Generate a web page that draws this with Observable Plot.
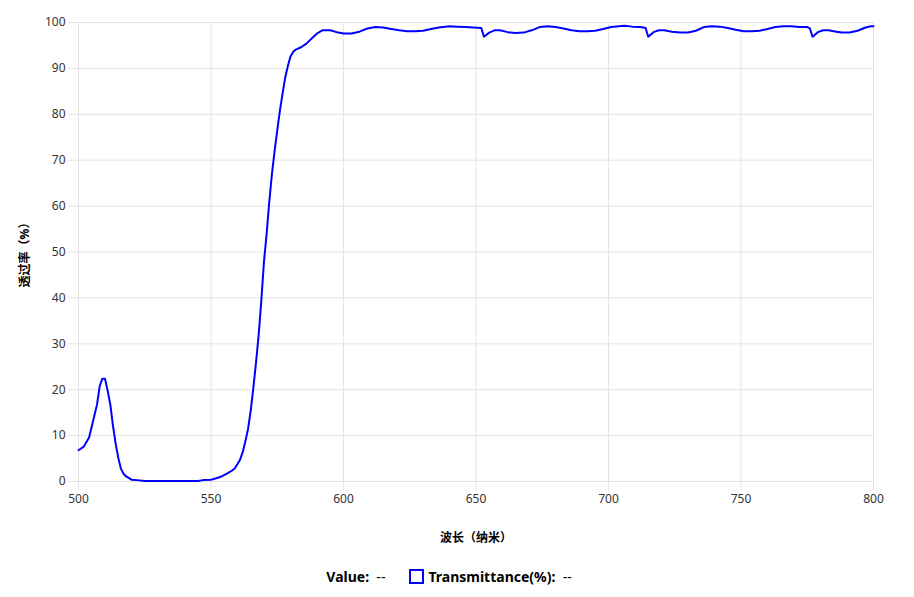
<!DOCTYPE html>
<html><head><meta charset="utf-8">
<script src="https://cdn.jsdelivr.net/npm/d3@7"></script>
<script src="https://cdn.jsdelivr.net/npm/@observablehq/plot@0.6"></script>
<style>
body{margin:0;background:#fff;font-family:"Noto Sans","Noto Sans CJK SC",sans-serif;}
#legend{height:42px;display:flex;align-items:center;justify-content:center;font-size:14px;color:#000;padding-right:16px;}
#legend b{font-weight:700}
.box{display:inline-block;width:11px;height:11px;border:2px solid #0000ff;margin:0 4px 0 0;vertical-align:-2px}
</style></head><body>
<div id="chart"></div>
<div id="legend"><span><b>Value:</b>&nbsp;&nbsp;--</span><span style="margin-left:24px"><span class="box"></span><b>Transmittance(%):</b>&nbsp;&nbsp;--</span></div>
<script>
const wavelength = [500,502,504,506,507,508,509,510,511,512,513,514,515,516,517,518,520,522,525,530,535,540,545,547,550,552,554,556,558,559,560,561,562,563,564,565,566,567,568,569,570,571,572,573,574,575,576,577,578,579,580,581,582,584,586,588,590,592,595,598,600,603,606,609,612,615,618,621,624,627,630,633,636,640,643,646,649,652,653,655,657,659,662,665,668,671,674,677,680,683,686,689,692,695,698,701,704,706,709,712,714,715,717,719,721,724,727,730,733,736,739,742,745,748,751,754,757,760,763,766,769,772,775,776,777,779,781,783,786,788,791,794,797,799,800];
const transmittance = [6.8,7.6,9.6,14.4,16.8,20.8,22.4,22.4,19.8,16.8,12.2,8.3,5.2,2.8,1.7,1.1,0.4,0.3,0.1,0.1,0.1,0.1,0.1,0.3,0.4,0.7,1.1,1.7,2.4,2.9,3.8,4.8,6.5,8.8,11.5,15.5,20.5,26,32,39.5,48,54,61,67,72,76.5,80.8,84.5,88,90.5,92.6,93.6,94.1,94.6,95.4,96.5,97.6,98.3,98.3,97.8,97.6,97.6,98.0,98.7,99.0,98.9,98.6,98.3,98.1,98.1,98.2,98.6,98.9,99.2,99.1,99.0,98.9,98.8,96.9,97.8,98.3,98.3,97.9,97.7,97.8,98.3,99.0,99.2,99.0,98.7,98.3,98.1,98.1,98.2,98.6,99.0,99.2,99.3,99.1,99.0,98.8,96.9,97.9,98.3,98.3,98.0,97.8,97.8,98.2,99.0,99.2,99.1,98.8,98.4,98.1,98.1,98.2,98.6,99.0,99.2,99.2,99.0,99.0,98.7,96.9,97.9,98.3,98.3,98.0,97.8,97.8,98.2,98.9,99.2,99.2];
const xTicks = [500,550,600,650,700,750,800];
const yTicks = [0,10,20,30,40,50,60,70,80,90,100];
const data = wavelength.map((w,i)=>({w, t: transmittance[i]}));
const grid = "#e4e4e4";
const chart = Plot.plot({
  width: 914, height: 555,
  marginTop: 22, marginBottom: 74, marginLeft: 78, marginRight: 41,
  style: {fontFamily: '"Noto Sans","Noto Sans CJK SC",sans-serif', fontSize: "12px", color: "#333", background: "#fff"},
  x: {domain: [500, 800]},
  y: {domain: [0, 100]},
  marks: [
    Plot.gridX(xTicks, {stroke: grid, strokeOpacity: 1}),
    Plot.gridY(yTicks, {stroke: grid, strokeOpacity: 1}),
    Plot.axisX(xTicks, {tickSize: 9, stroke: grid, strokeOpacity: 1, tickPadding: 4, fill: "#333", label: "波长（纳米）", labelAnchor: "center", labelArrow: "none", labelOffset: 60}),
    Plot.axisY(yTicks, {tickSize: 10, stroke: grid, strokeOpacity: 1, tickPadding: 3, fill: "#333", label: "透过率（%）", labelAnchor: "center", labelArrow: "none", labelOffset: 58}),
    Plot.line(data, {x: "w", y: "t", stroke: "#0000ff", strokeWidth: 2})
  ]
});
d3.select(chart).selectAll('g[aria-label="x-axis label"], g[aria-label="y-axis label"]').attr("fill", "#000").attr("font-weight", "bold");
document.getElementById("chart").appendChild(chart);
</script>
</body></html>
